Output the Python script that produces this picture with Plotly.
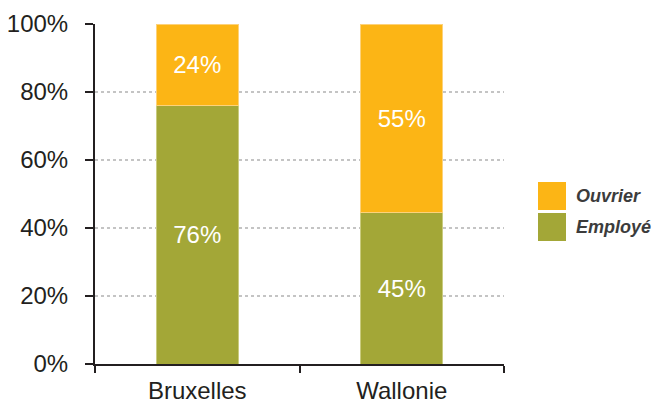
import plotly.graph_objects as go

categories = ["Bruxelles", "Wallonie"]
employe = [76, 44.6]
ouvrier = [24, 55.4]
series_names = ["Employé", "Ouvrier"]
y_ticks = [0, 20, 40, 60, 80, 100]
y_tick_labels = ["0%", "20%", "40%", "60%", "80%", "100%"]

col_employe = "#A3A737"
col_ouvrier = "#FCB515"
axis_col = "#231F20"
font_fam = "Liberation Sans, Arial, sans-serif"

fig = go.Figure()
fig.add_trace(go.Bar(
    x=categories, y=employe, name=series_names[0],
    marker=dict(color=col_employe, line=dict(color="#C9CB7F", width=1)),
    width=0.4, texttemplate="%{y:.0f}%", textposition="inside",
    insidetextanchor="middle", textangle=0,
    textfont=dict(color="white", size=24, family=font_fam),
    showlegend=False, hoverinfo="skip"))
fig.add_trace(go.Bar(
    x=categories, y=ouvrier, name=series_names[1],
    marker=dict(color=col_ouvrier, line=dict(color="#FDD27A", width=1)),
    width=0.4, texttemplate="%{y:.0f}%", textposition="inside",
    insidetextanchor="middle", textangle=0,
    textfont=dict(color="white", size=24, family=font_fam),
    showlegend=False, hoverinfo="skip"))

# page body has an 8px default margin: compensate so the plot lands where the reference has it
fig.update_layout(
    width=655, height=397,
    margin=dict(l=87, r=159, t=16, b=41, autoexpand=False),
    barmode="stack",
    plot_bgcolor="white", paper_bgcolor="white",
    font=dict(family=font_fam, size=24, color=axis_col),
    xaxis=dict(
        showline=True, linecolor=axis_col, linewidth=2, automargin=False,
        ticks="outside", tickson="boundaries", ticklen=7, tickwidth=2,
        tickcolor=axis_col, showgrid=False, ticklabelstandoff=4,
        tickfont=dict(size=24, color=axis_col, family=font_fam),
    ),
    yaxis=dict(
        range=[0, 100], tickvals=y_ticks, ticktext=y_tick_labels,
        showline=True, linecolor=axis_col, linewidth=2, automargin=False,
        ticks="outside", ticklen=8, tickwidth=2, tickcolor=axis_col,
        showgrid=True, gridcolor="#C4C4C4", griddash="dot", gridwidth=2,
        zeroline=False, ticklabelstandoff=12,
        tickfont=dict(size=24, color=axis_col, family=font_fam),
    ),
)

# Legend drawn as swatches + text (large square swatches like the reference)
legend_items = [(series_names[1], col_ouvrier, 196), (series_names[0], col_employe, 227)]
for name, col, yc in legend_items:
    fig.add_shape(type="rect", xref="paper", yref="paper",
                  x0=(538 - 95) / 409, x1=(566 - 95) / 409,
                  y0=(364 - (yc + 14)) / 340, y1=(364 - (yc - 14)) / 340,
                  fillcolor=col, line=dict(width=0))
    fig.add_annotation(xref="paper", yref="paper",
                       x=(574 - 95) / 409, y=(364 - yc) / 340,
                       xanchor="left", yanchor="middle", showarrow=False,
                       text="<b><i>%s</i></b>" % name,
                       font=dict(family="Liberation Sans Narrow, Liberation Sans, sans-serif",
                                 size=18, color="#3C3C3C"))

fig.write_html("out.html")
